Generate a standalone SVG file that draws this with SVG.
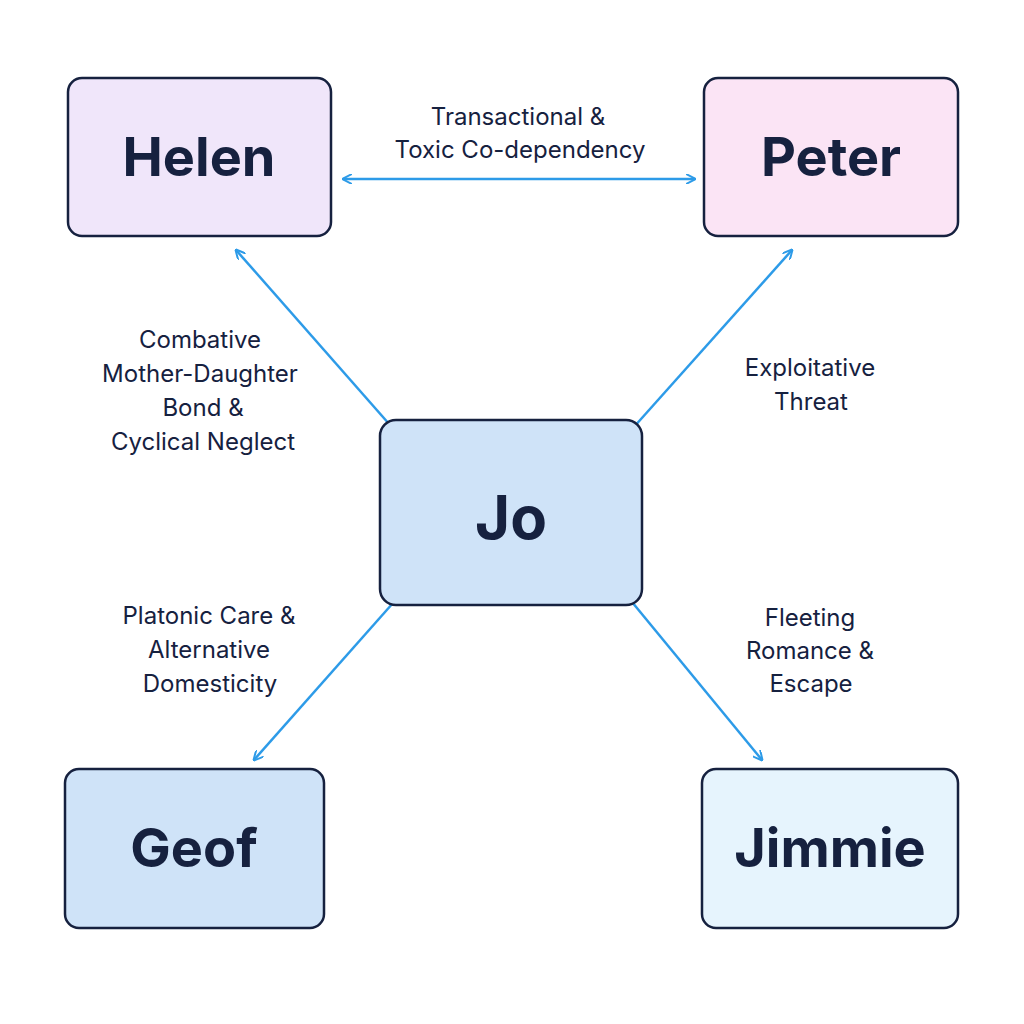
<svg xmlns="http://www.w3.org/2000/svg" width="1024" height="1024" viewBox="0 0 1024 1024">
<style>
.n{stroke:#16213f;stroke-width:2.5}
.t{font-family:Inter,"Liberation Sans",sans-serif;font-weight:700;fill:#16213f;text-anchor:middle}
.l{font-family:Inter,"Liberation Sans",sans-serif;font-size:24px;fill:#16213f;text-anchor:middle}
.c{stroke:#2d9be8;stroke-width:2.5;fill:none;marker-end:url(#a)}
</style>
<defs><marker id="a" viewBox="0 0 10 10" refX="9" refY="5" markerWidth="10" markerHeight="10" orient="auto-start-reverse" markerUnits="userSpaceOnUse"><path d="M0,0 L10,5 L0,10" fill="none" stroke="#2d9be8" stroke-width="2"/></marker></defs>
<rect width="1024" height="1024" fill="#fff"/>
<g id="connectors">
<path class="c" d="M343,179 L695,179" marker-start="url(#a)"/>
<path class="c" d="M390,425 L236,250"/>
<path class="c" d="M633,428 L792,250"/>
<path class="c" d="M393,603 L254,760"/>
<path class="c" d="M632,602 L762,760"/>
</g>
<g id="helen"><rect class="n" x="68" y="78" width="263" height="158" rx="14" fill="#f0e6fa"/><text class="t" x="199" y="176" font-size="54">Helen</text></g>
<g id="peter"><rect class="n" x="704" y="78" width="254" height="158" rx="14" fill="#fbe4f5"/><text class="t" x="831" y="176" font-size="54">Peter</text></g>
<g id="jo"><rect class="n" x="380" y="420" width="262" height="185" rx="16" fill="#cfe3f8"/><text class="t" x="511" y="539" font-size="60">Jo</text></g>
<g id="geof"><rect class="n" x="65" y="769" width="259" height="159" rx="14" fill="#cfe3f8"/><text class="t" x="194" y="867" font-size="54">Geof</text></g>
<g id="jimmie"><rect class="n" x="702" y="769" width="256" height="159" rx="14" fill="#e6f4fd"/><text class="t" x="830" y="867" font-size="54">Jimmie</text></g>
<g id="labels">
<text class="l" x="518" y="125">Transactional &amp;</text><text class="l" x="520" y="158">Toxic Co-dependency</text>
<text class="l" x="200" y="348">Combative</text><text class="l" x="200" y="382">Mother-Daughter</text><text class="l" x="203" y="416">Bond &amp;</text><text class="l" x="203" y="450">Cyclical Neglect</text>
<text class="l" x="810" y="376">Exploitative</text><text class="l" x="811" y="410">Threat</text>
<text class="l" x="209" y="624">Platonic Care &amp;</text><text class="l" x="209" y="658">Alternative</text><text class="l" x="210" y="692">Domesticity</text>
<text class="l" x="810" y="626">Fleeting</text><text class="l" x="810" y="659">Romance &amp;</text><text class="l" x="811" y="692">Escape</text>
</g>
</svg>
